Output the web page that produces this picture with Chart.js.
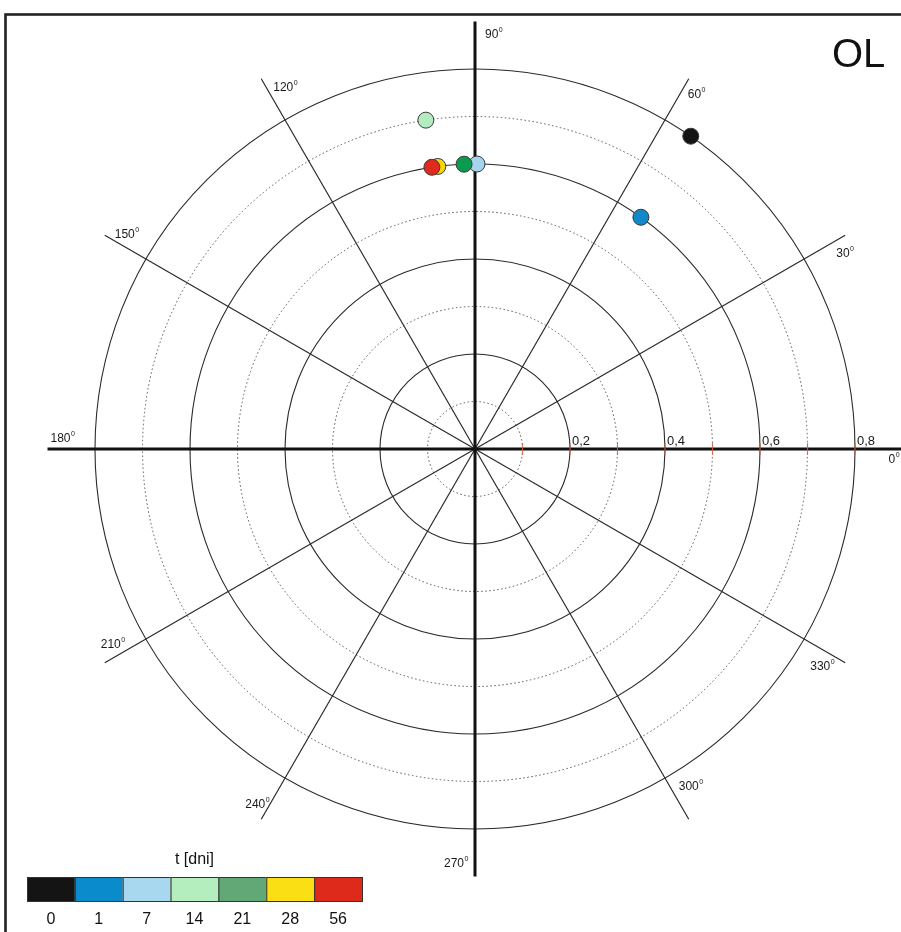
<!DOCTYPE html>
<html>
<head>
<meta charset="utf-8">
<title>OL – wykres biegunowy</title>
<script src="https://cdn.jsdelivr.net/npm/chart.js@4.4.1/dist/chart.umd.min.js"></script>
<style>
  html, body { margin: 0; padding: 0; background: #ffffff; }
  #wrap { width: 901px; height: 932px; position: relative; }
  canvas { display: block; }
</style>
</head>
<body>
<div id="wrap"><canvas id="polar" width="901" height="932"></canvas></div>
<script>
// Measurement times (days) and their colours
const days = [0, 1, 7, 14, 21, 28, 56];
const legendColors = ['#141414', '#0a8bcb', '#a8d7f0', '#b4eebe', '#62a877', '#f9df13', '#dd2a1b'];
const pointColors  = ['#141414', '#1289c8', '#a6d4ee', '#b2ecc0', '#0a9a50', '#f5d800', '#e02a1f'];

// Polar coordinates of each measurement: modulus and phase angle (degrees)
const modulus  = [0.80, 0.60, 0.60, 0.70, 0.60, 0.60, 0.60];
const angleDeg = [55.4, 54.4, 89.6, 98.5, 92.2, 97.5, 98.7];

// Grid definition
const solidRings  = [0.2, 0.4, 0.6, 0.8];
const dottedRings = [0.1, 0.3, 0.5, 0.7];
const radialTicks = [0.1, 0.2, 0.3, 0.4, 0.5, 0.6, 0.7, 0.8];
const radialLabels = ['0,2', '0,4', '0,6', '0,8'];
const radialLabelValues = [0.2, 0.4, 0.6, 0.8];
const spokeAngles = [30, 60, 120, 150, 210, 240, 300, 330];
const spokeLength = 0.9;
const angleLabels = [0, 30, 60, 90, 120, 150, 180, 210, 240, 270, 300, 330];
// text placement of each angle label relative to the end of its spoke (px)
const angleLabelOffsets = {
  0: [-14, 14], 30: [-9, 22], 60: [-1, 19], 90: [10, 16], 120: [12, 12], 150: [10, 3],
  180: [3, -7], 210: [-4, -15], 240: [-16, -11], 270: [-31, -10], 300: [-10, -29], 330: [-35, 7]
};

const toRad = d => d * Math.PI / 180;
const points = modulus.map((r, i) => ({ x: r * Math.cos(toRad(angleDeg[i])), y: r * Math.sin(toRad(angleDeg[i])) }));

const FONT = '"Liberation Sans", Arial, sans-serif';

function drawDegree(ctx, value, x, y) {
  ctx.font = '12px ' + FONT;
  ctx.fillStyle = '#1a1a1a';
  ctx.textAlign = 'left';
  ctx.textBaseline = 'alphabetic';
  const s = String(value);
  ctx.fillText(s, x, y);
  const w = ctx.measureText(s).width;
  ctx.font = '7px ' + FONT;
  ctx.fillText('0', x + w + 0.5, y - 6);
}

const polarGrid = {
  id: 'polarGrid',
  beforeDatasetsDraw(chart) {
    const { ctx, scales: { x, y } } = chart;
    const cx = x.getPixelForValue(0), cy = y.getPixelForValue(0);
    const unit = x.getPixelForValue(1) - cx;
    const end = (deg, r) => [x.getPixelForValue(r * Math.cos(toRad(deg))), y.getPixelForValue(r * Math.sin(toRad(deg)))];

    ctx.save();
    // outer frame
    ctx.strokeStyle = '#222';
    ctx.lineWidth = 2.6;
    ctx.strokeRect(5.5, 14.5, 910, 930);

    // dotted rings
    ctx.strokeStyle = '#555';
    ctx.lineWidth = 1;
    ctx.setLineDash([1.5, 2.5]);
    dottedRings.forEach(r => { ctx.beginPath(); ctx.arc(cx, cy, r * unit, 0, 2 * Math.PI); ctx.stroke(); });
    ctx.setLineDash([]);

    // solid rings
    ctx.strokeStyle = '#2a2a2a';
    ctx.lineWidth = 1.1;
    solidRings.forEach(r => { ctx.beginPath(); ctx.arc(cx, cy, r * unit, 0, 2 * Math.PI); ctx.stroke(); });

    // spokes
    ctx.lineWidth = 1.2;
    spokeAngles.forEach(a => {
      const [ex, ey] = end(a, spokeLength);
      ctx.beginPath(); ctx.moveTo(cx, cy); ctx.lineTo(ex, ey); ctx.stroke();
    });

    // main axes
    ctx.strokeStyle = '#111';
    ctx.lineWidth = 3;
    [[0, 180], [90, 270]].forEach(([a, b]) => {
      const [x1, y1] = end(a, spokeLength), [x2, y2] = end(b, spokeLength);
      ctx.beginPath(); ctx.moveTo(x1, y1); ctx.lineTo(x2, y2); ctx.stroke();
    });

    // radial ticks on the 0° axis
    ctx.strokeStyle = 'rgba(214, 96, 64, 0.85)';
    ctx.lineWidth = 1.2;
    radialTicks.forEach(r => {
      const px = x.getPixelForValue(r);
      ctx.beginPath(); ctx.moveTo(px, cy - 6); ctx.lineTo(px, cy + 6); ctx.stroke();
    });

    // radial labels
    ctx.font = '13px ' + FONT;
    ctx.fillStyle = '#1a1a1a';
    ctx.textAlign = 'left';
    ctx.textBaseline = 'alphabetic';
    radialLabelValues.forEach((r, i) => ctx.fillText(radialLabels[i], x.getPixelForValue(r) + 2, cy - 4));

    // angle labels
    angleLabels.forEach(a => {
      const [ex, ey] = end(a, spokeLength);
      const [dx, dy] = angleLabelOffsets[a];
      drawDegree(ctx, a, ex + dx, ey + dy);
    });
    ctx.restore();
  },
  afterDraw(chart) {
    const { ctx } = chart;
    ctx.save();
    // panel title
    ctx.font = '40px ' + FONT;
    ctx.fillStyle = '#111';
    ctx.textAlign = 'left';
    ctx.textBaseline = 'alphabetic';
    ctx.fillText('OL', 832, 67);

    // colour bar legend
    const left = 27, top = 877, cellW = (362 - 27) / days.length, cellH = 24;
    ctx.font = '16px ' + FONT;
    ctx.textAlign = 'center';
    ctx.fillText('t [dni]', left + cellW * days.length / 2, 864);
    days.forEach((d, i) => {
      const x0 = left + i * cellW;
      ctx.fillStyle = legendColors[i];
      ctx.fillRect(x0, top, cellW, cellH);
      ctx.strokeStyle = '#333';
      ctx.lineWidth = 1;
      ctx.strokeRect(x0 + 0.5, top + 0.5, cellW, cellH);
      ctx.fillStyle = '#111';
      ctx.fillText(String(d), x0 + cellW / 2, 924);
    });
    ctx.restore();
  }
};

const PX_PER_UNIT = 475;
new Chart(document.getElementById('polar'), {
  type: 'scatter',
  data: {
    datasets: [{
      label: 't [dni]',
      data: points,
      pointRadius: 8,
      pointHoverRadius: 8,
      pointBackgroundColor: pointColors,
      pointBorderColor: '#3a3a3a',
      pointBorderWidth: 1,
      showLine: false
    }]
  },
  options: {
    responsive: false,
    animation: false,
    devicePixelRatio: 1,
    layout: { padding: 0, autoPadding: false },
    plugins: { legend: { display: false }, tooltip: { enabled: false } },
    scales: {
      x: { type: 'linear', display: false, min: -475 / PX_PER_UNIT, max: 426 / PX_PER_UNIT },
      y: { type: 'linear', display: false, min: -483 / PX_PER_UNIT, max: 449 / PX_PER_UNIT }
    }
  },
  plugins: [polarGrid]
});
</script>
</body>
</html>
